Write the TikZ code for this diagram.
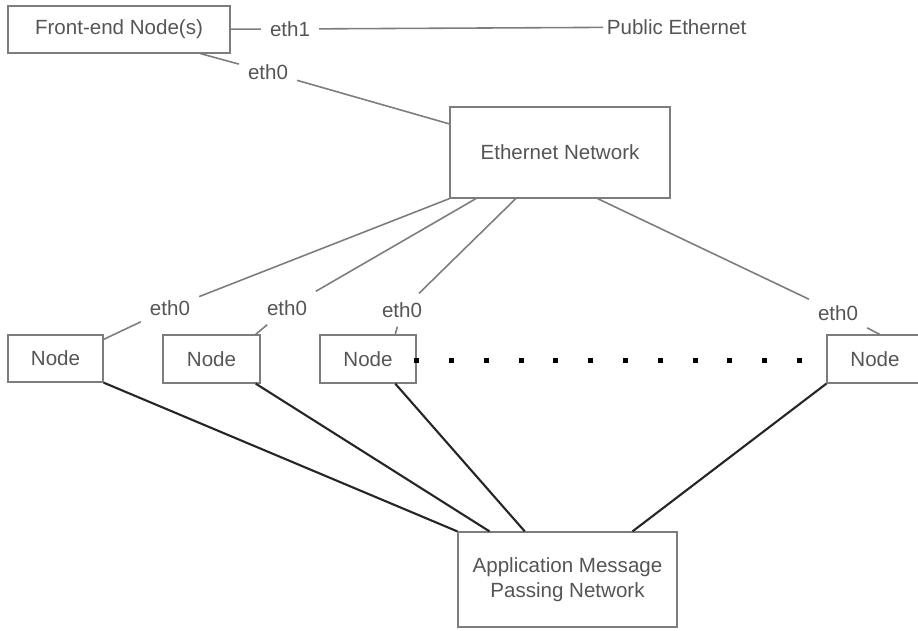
\documentclass[tikz,border=0pt]{standalone}
\usepackage{fontspec}
\setmainfont{Liberation Sans}
\usetikzlibrary{calc}
\definecolor{lgray}{RGB}{125, 125, 125}
\definecolor{tgray}{RGB}{85, 85, 85}

\begin{document}
\begin{tikzpicture}[x=0.02cm,y=-0.02cm,
    box/.style={draw=lgray,line width=0.7pt,text=tgray,align=center,font=\fontsize{11.7}{14.5}\selectfont},
    lbl/.style={text=tgray,inner sep=5pt,font=\fontsize{11.7}{14.5}\selectfont},
    wire/.style={lgray,line width=0.9pt},
    link/.style={black!85,line width=1.2pt},
    dot/.style={fill=black,inner sep=0pt,minimum size=0.1cm}
  ]
  \useasboundingbox (0,0) rectangle (918,630);

  % boxes
  \node[box,minimum width=4.44cm,minimum height=0.94cm] (front) at (119,29.5) {Front-end Node(s)};
  \node[box,minimum width=4.4cm,minimum height=1.82cm] (ethnet) at (560,152.5) {Ethernet Network};
  \node[box,minimum width=4.38cm,minimum height=1.9cm] (ampn) at (567.5,579.5) {Application Message\\Passing Network};

  \node[box,minimum width=1.9cm,minimum height=0.94cm] (n1) at (55.5,358.5) {Node};
  \node[box,minimum width=1.94cm,minimum height=0.96cm] (n2) at (211.5,359) {Node};
  \node[box,minimum width=1.92cm,minimum height=0.96cm] (n3) at (368,359) {Node};
  \node[box,minimum width=1.92cm,minimum height=0.96cm] (n4) at (875,359) {Node};

  % labels
  \node[lbl] (eth1) at (290,29) {eth1};
  \node[lbl,anchor=west,inner sep=2pt] (pub) at (603,27) {Public Ethernet};
  \node[lbl] (feth0) at (268,72) {eth0};
  \node[lbl] (e1) at (170,308) {eth0};
  \node[lbl] (e2) at (287,308) {eth0};
  \node[lbl] (e3) at (402,310) {eth0};
  \node[lbl] (e4) at (838,313) {eth0};

  % public side
  \draw[wire] (front) -- (eth1);
  \draw[wire] (eth1) -- (pub);
  \draw[wire] ($(front.south west)!0.865!(front.south east)$) -- (feth0);
  \draw[wire] (feth0) -- ($(ethnet.north west)!0.19!(ethnet.south west)$);

  % ethernet to nodes
  \draw[wire] (ethnet.south west) -- (e1);
  \draw[wire] (e1) -- ([yshift=-0.1cm]n1.north east);
  \draw[wire] ($(ethnet.south west)!0.12!(ethnet.south east)$) -- (e2);
  \draw[wire] (e2) -- ($(n2.north west)!0.95!(n2.north east)$);
  \draw[wire] ($(ethnet.south west)!0.3!(ethnet.south east)$) -- (e3);
  \draw[wire] (e3) -- ($(n3.north west)!0.78!(n3.north east)$);
  \draw[wire] ($(ethnet.south west)!0.67!(ethnet.south east)$) -- (e4);
  \draw[wire] (e4) -- ($(n4.north west)!0.55!(n4.north east)$);

  % more nodes
  \foreach \i in {0,...,11}
    \node[dot] at ($(n3.east)+(34.8*\i,1)$) {};

  % nodes to message passing network
  \draw[link] (n1.south east) -- (ampn.north west);
  \draw[link] ($(n2.south west)!0.95!(n2.south east)$) -- ($(ampn.north west)!0.146!(ampn.north east)$);
  \draw[link] ($(n3.south west)!0.78!(n3.south east)$) -- ($(ampn.north west)!0.306!(ampn.north east)$);
  \draw[link] (n4.south west) -- ($(ampn.north west)!0.795!(ampn.north east)$);

\end{tikzpicture}
\end{document}
